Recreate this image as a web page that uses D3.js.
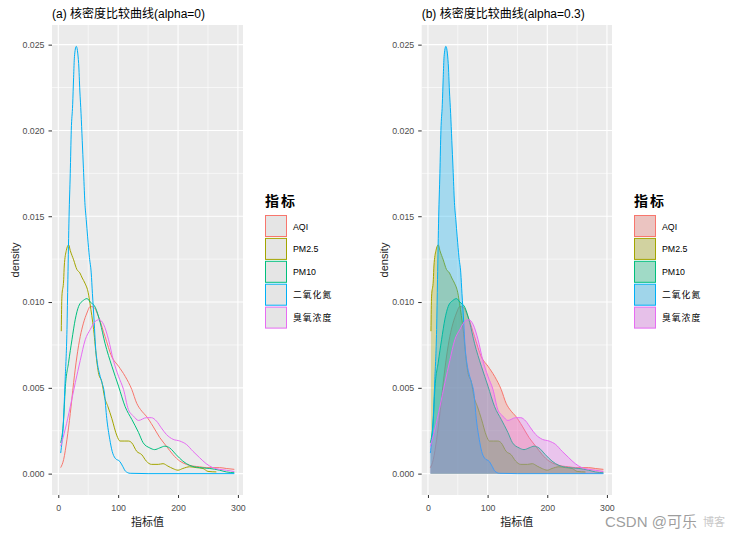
<!DOCTYPE html>
<html><head><meta charset="utf-8">
<script src="https://cdn.jsdelivr.net/npm/d3@7"></script>
<style>
body{margin:0;background:#fff}
svg{display:block}
text{font-family:"Liberation Sans",Arial,"Noto Sans CJK SC",sans-serif}
</style>
</head><body><svg id="c" width="739" height="535"></svg>
<script>
// ---------------- data ----------------
const categories = ["AQI", "PM2.5", "PM10", "二氧化氮", "臭氧浓度"];
const colors = ["#F8766D", "#A3A500", "#00BF7D", "#00B0F6", "#E76BF3"];

const aqiX = [4, 9, 14.5, 20, 25.6, 31, 36.7, 42, 47.8, 53.4, 59, 67, 78, 89.5, 100.6, 111.7, 122.8, 131, 139.5, 147, 158, 169.5, 180.6, 191.7, 203, 214, 225, 236, 247, 258, 269.5, 280.6, 294];
const aqiY = [0.00035, 0.00083, 0.002, 0.0035, 0.0053, 0.0068, 0.008, 0.00877, 0.00936, 0.00974, 0.0097, 0.00916, 0.008, 0.0068, 0.00626, 0.00567, 0.0049, 0.0041, 0.00364, 0.00335, 0.00277, 0.0021, 0.0016, 0.0011, 0.00073, 0.00054, 0.00044, 0.0004, 0.00035, 0.00035, 0.00035, 0.0003, 0.00025];

const pm25X = [5, 6, 9, 10, 13.4, 17.3, 20, 25.6, 31, 36, 40, 44.5, 50, 53, 59, 64.5, 67, 73, 77, 83, 89.5, 98, 103, 110, 117, 122.6, 131, 139.5, 147, 155.6, 167, 175, 183, 191.7, 200, 208, 219.5, 230.6, 241.7, 250, 264];
const pm25Y = [0.0083, 0.0103, 0.0113, 0.0121, 0.0130, 0.01333, 0.0130, 0.01246, 0.0119, 0.0117, 0.0114, 0.0111, 0.01054, 0.0099, 0.0084, 0.0065, 0.0059, 0.0053, 0.0045, 0.0039, 0.0032, 0.0022, 0.0019, 0.0019, 0.0019, 0.0018, 0.0013, 0.0011, 0.00073, 0.00054, 0.00054, 0.00058, 0.00044, 0.00029, 0.0002, 0.0003, 0.0004, 0.00035, 0.0003, 0.00013, 0.0001];

const pm10X = [4, 9, 11.5, 17.3, 22.8, 28.4, 34, 42, 48, 53.4, 61.7, 70, 78, 89.5, 100.6, 111.7, 122.8, 134, 141.7, 152.8, 161, 169.5, 178, 186, 197, 208, 219.5, 236, 253, 269.5, 280.6, 294];
const pm10Y = [0.0018, 0.0032, 0.0049, 0.0065, 0.0078, 0.0090, 0.00975, 0.0101, 0.0102, 0.0100, 0.0097, 0.0088, 0.0076, 0.00626, 0.0051, 0.0039, 0.00316, 0.0024, 0.0018, 0.0015, 0.0014, 0.0015, 0.0016, 0.0015, 0.0011, 0.00073, 0.00048, 0.00035, 0.0003, 0.0002, 0.0001, 0.00005];

const no2X = [4, 8.5, 11.5, 14.5, 16, 18, 20, 21.7, 24, 25.6, 27, 30, 34, 36, 38, 40, 42, 44.4, 46.7, 49, 52, 55, 57, 60, 62, 65, 69, 73, 77, 81, 86, 90, 95, 103, 108, 112, 120, 150, 200, 250, 294];
const no2Y = [0.0012, 0.0030, 0.0055, 0.0084, 0.0113, 0.0150, 0.0175, 0.0200, 0.0215, 0.0231, 0.0243, 0.0249, 0.0239, 0.0223, 0.0210, 0.0194, 0.0178, 0.0158, 0.0148, 0.0138, 0.0126, 0.0117, 0.0105, 0.0088, 0.0075, 0.0065, 0.0058, 0.0053, 0.0047, 0.0032, 0.0020, 0.0013, 0.0009, 0.0007, 0.0004, 0.00015, 0.00002, 0, 0, 0, 0];

const o3X = [4, 11.7, 20, 28.4, 36.7, 45, 53.4, 61.7, 68.4, 75.6, 84, 92, 100.6, 109, 117, 125.6, 134, 147, 155.6, 164, 172, 180.6, 191.7, 203, 214, 225, 236, 247, 258, 269.5, 280.6, 294];
const o3Y = [0.0016, 0.0026, 0.0039, 0.0053, 0.0066, 0.0078, 0.0084, 0.00887, 0.00897, 0.0087, 0.0078, 0.0066, 0.00567, 0.0049, 0.00374, 0.00335, 0.0031, 0.00326, 0.00326, 0.00306, 0.00267, 0.00228, 0.002, 0.0019, 0.0017, 0.0013, 0.00093, 0.00058, 0.00035, 0.00025, 0.0002, 0.00012];

const xTicks = [0, 100, 200, 300];
const xMinor = [50, 150, 250];
const yTicks = [0, 0.005, 0.01, 0.015, 0.02, 0.025];
const yMinor = [0.0025, 0.0075, 0.0125, 0.0175, 0.0225];
const panelTitles = ["(a) 核密度比较曲线(alpha=0)", "(b) 核密度比较曲线(alpha=0.3)"];
const alphas = [0, 0.3];
const legendTitle = "指标";
const xTitle = "指标值";
const yTitle = "density";

// ---------------- build ----------------
const seriesXs = [aqiX, pm25X, pm10X, no2X, o3X];
const seriesYs = [aqiY, pm25Y, pm10Y, no2Y, o3Y];
const series = categories.map((c, i) => ({
  name: c, color: colors[i],
  pts: seriesXs[i].map((x, j) => ({x, y: seriesYs[i][j]}))
}));

const allX = seriesXs.flat(), allY = seriesYs.flat();
const xmin = d3.min(allX), xmax = d3.max(allX);
const ymin = 0, ymax = d3.max(allY);
const xe = (xmax - xmin) * 0.05, ye = (ymax - ymin) * 0.05;
const xDom = [xmin - xe, xmax + xe];
const yDom = [ymin - ye, ymax + ye];

const svg = d3.select("#c");
svg.append("rect").attr("width", 739).attr("height", 535).attr("fill", "#fff");

const panelTop = 25, panelBottom = 495;
const layouts = [
  {left: 52, right: 243, legendX: 265, titleX: 52, yTitleX: 15},
  {left: 421.7, right: 612, legendX: 634, titleX: 421.7, yTitleX: 384.5}
];

layouts.forEach((L, p) => {
  const alpha = alphas[p];
  const g = svg.append("g");
  const x = d3.scaleLinear().domain(xDom).range([L.left, L.right]);
  const y = d3.scaleLinear().domain(yDom).range([panelBottom, panelTop]);

  g.append("rect").attr("x", L.left).attr("y", panelTop)
    .attr("width", L.right - L.left).attr("height", panelBottom - panelTop)
    .attr("fill", "#EBEBEB");

  // minor grid
  g.selectAll(null).data(xMinor).enter().append("line")
    .attr("x1", d => x(d)).attr("x2", d => x(d)).attr("y1", panelTop).attr("y2", panelBottom)
    .attr("stroke", "#fff").attr("stroke-width", 0.6);
  g.selectAll(null).data(yMinor).enter().append("line")
    .attr("y1", d => y(d)).attr("y2", d => y(d)).attr("x1", L.left).attr("x2", L.right)
    .attr("stroke", "#fff").attr("stroke-width", 0.6);
  // major grid
  g.selectAll(null).data(xTicks).enter().append("line")
    .attr("x1", d => x(d)).attr("x2", d => x(d)).attr("y1", panelTop).attr("y2", panelBottom)
    .attr("stroke", "#fff").attr("stroke-width", 1.1);
  g.selectAll(null).data(yTicks).enter().append("line")
    .attr("y1", d => y(d)).attr("y2", d => y(d)).attr("x1", L.left).attr("x2", L.right)
    .attr("stroke", "#fff").attr("stroke-width", 1.1);

  const line = d3.line().x(d => x(d.x)).y(d => y(d.y)).curve(d3.curveMonotoneX);
  const area = d3.area().x(d => x(d.x)).y0(y(0)).y1(d => y(d.y)).curve(d3.curveMonotoneX);

  series.forEach(s => {
    if (alpha > 0) {
      g.append("path").attr("d", area(s.pts)).attr("fill", s.color).attr("fill-opacity", alpha);
    }
    g.append("path").attr("d", line(s.pts)).attr("fill", "none")
      .attr("stroke", s.color).attr("stroke-width", 1);
  });

  // axes
  const ax = g.append("g").attr("transform", `translate(0,${panelBottom})`)
    .call(d3.axisBottom(x).tickValues(xTicks).tickSize(3).tickPadding(7).tickFormat(d3.format("d")));
  const ay = g.append("g").attr("transform", `translate(${L.left},0)`)
    .call(d3.axisLeft(y).tickValues(yTicks).tickSize(3.5).tickPadding(4).tickFormat(d3.format(".3f")));
  [ax, ay].forEach(a => {
    a.select(".domain").remove();
    a.selectAll(".tick line").attr("stroke", "#333").attr("stroke-width", 1);
    a.selectAll(".tick text").attr("fill", "#4D4D4D").style("font-size", "8.8px")
      .style("font-family", "'Liberation Sans', Arial, sans-serif");
  });

  // titles
  g.append("text").attr("x", L.titleX).attr("y", 18).text(panelTitles[p])
    .style("font-size", "12px").attr("fill", "#000");
  g.append("text").attr("x", (L.left + L.right) / 2).attr("y", 526).attr("text-anchor", "middle")
    .text(xTitle).style("font-size", "11px").attr("fill", "#222");
  g.append("text").attr("transform", `translate(${L.yTitleX},${(panelTop + panelBottom) / 2}) rotate(-90)`)
    .attr("text-anchor", "middle").attr("dy", "0.35em")
    .text(yTitle).style("font-size", "11px").attr("fill", "#222");

  // legend
  const lg = g.append("g").attr("transform", `translate(${L.legendX},0)`);
  lg.append("text").attr("x", 0).attr("y", 206).text(legendTitle)
    .style("font-size", "14px").style("font-weight", "bold").style("letter-spacing", "2px").attr("fill", "#000");
  series.forEach((s, i) => {
    const ky = 215.5 + i * 22.9;
    lg.append("rect").attr("x", 0.5).attr("y", ky).attr("width", 21).attr("height", 21)
      .attr("fill", "#E5E5E5");
    lg.append("rect").attr("x", 0.5).attr("y", ky).attr("width", 21).attr("height", 21)
      .attr("fill", s.color).attr("fill-opacity", alpha)
      .attr("stroke", s.color).attr("stroke-width", 1);
    lg.append("text").attr("x", 28).attr("y", ky + 11).attr("dy", "0.35em")
      .text(s.name).style("font-size", "8.8px")
      .style("letter-spacing", /[\u4e00-\u9fff]/.test(s.name) ? "1px" : "0px")
      .attr("fill", "#000");
  });
});

// watermark
svg.append("text").attr("x", 605).attr("y", 527).text("CSDN @可乐")
  .style("font-size", "15px").attr("fill", "#8c8c8c").attr("fill-opacity", 0.85);
svg.append("text").attr("x", 703).attr("y", 526).text("博客")
  .style("font-size", "11px").attr("fill", "#c8c8c8");
</script>
</body></html>
